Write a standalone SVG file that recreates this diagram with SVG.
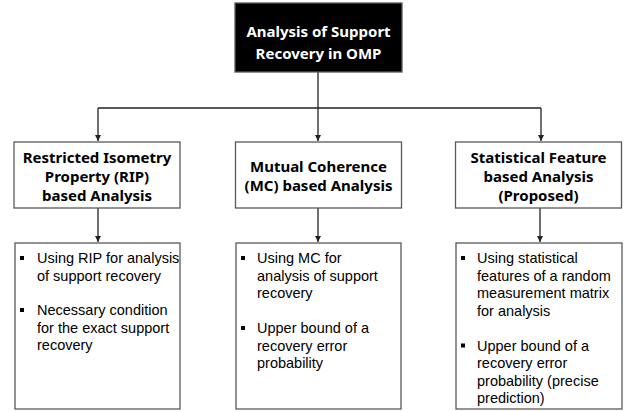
<svg xmlns="http://www.w3.org/2000/svg" width="627" height="411" viewBox="0 0 627 411">
<style>
.box{fill:#fff;stroke:#595959;stroke-width:1.3}
.title{font-family:"Noto Sans","Liberation Sans",sans-serif;font-weight:bold;font-size:15px;fill:#000;text-anchor:middle}
.body{font-family:"Liberation Sans",Arial,sans-serif;font-size:14.5px;fill:#000}
.bul{fill:#000}
.conn{fill:none;stroke:#222;stroke-width:1.3}
</style>
<defs>
<marker id="arr" viewBox="0 0 6 6" refX="6" refY="3" markerWidth="6" markerHeight="6" markerUnits="userSpaceOnUse" orient="auto">
<path d="M0,0 L6,3 L0,6 Z" fill="#222"/>
</marker>
</defs>
<rect width="627" height="411" fill="#fff"/>
<g id="connectors">
<path class="conn" d="M318,72 V108"/>
<path class="conn" d="M98,108 H541"/>
<path class="conn" d="M98,108 V141" marker-end="url(#arr)"/>
<path class="conn" d="M318,108 V141" marker-end="url(#arr)"/>
<path class="conn" d="M541,108 V141" marker-end="url(#arr)"/>
<path class="conn" d="M98,208 V242" marker-end="url(#arr)"/>
<path class="conn" d="M318,208 V242" marker-end="url(#arr)"/>
<path class="conn" d="M540,208 V242" marker-end="url(#arr)"/>
</g>
<g id="root">
<rect x="235" y="3" width="167" height="69" fill="#000" stroke="#595959" stroke-width="1.3"/>
<text class="title" style="fill:#fff" x="318.5" y="37">Analysis of Support</text>
<text class="title" style="fill:#fff" x="318.5" y="59">Recovery in OMP</text>
</g>
<g id="rip">
<rect class="box" x="14" y="142" width="166" height="66"/>
<text class="title" x="97" y="163">Restricted Isometry</text>
<text class="title" x="97" y="182">Property (RIP)</text>
<text class="title" x="97" y="201">based Analysis</text>
</g>
<g id="mc">
<rect class="box" x="235.5" y="142" width="166" height="66"/>
<text class="title" x="318.5" y="172">Mutual Coherence</text>
<text class="title" x="318.5" y="191">(MC) based Analysis</text>
</g>
<g id="stat">
<rect class="box" x="455.5" y="142" width="166" height="66"/>
<text class="title" x="538.5" y="163">Statistical Feature</text>
<text class="title" x="538.5" y="182">based Analysis</text>
<text class="title" x="538.5" y="201">(Proposed)</text>
</g>
<g id="rip-details">
<rect class="box" x="15" y="243" width="165" height="166"/>
<rect class="bul" x="20" y="256" width="4" height="4"/>
<text class="body" x="37" y="263">Using RIP for analysis</text>
<text class="body" x="37" y="280.5">of support recovery</text>
<rect class="bul" x="20" y="308" width="4" height="4"/>
<text class="body" x="37" y="315">Necessary condition</text>
<text class="body" x="37" y="332.5">for the exact support</text>
<text class="body" x="37" y="350">recovery</text>
</g>
<g id="mc-details">
<rect class="box" x="236" y="243" width="165" height="166"/>
<rect class="bul" x="241" y="256" width="4" height="4"/>
<text class="body" x="257" y="263">Using MC for</text>
<text class="body" x="257" y="280.5">analysis of support</text>
<text class="body" x="257" y="298">recovery</text>
<rect class="bul" x="241" y="326" width="4" height="4"/>
<text class="body" x="257" y="333">Upper bound of a</text>
<text class="body" x="257" y="350.5">recovery error</text>
<text class="body" x="257" y="368">probability</text>
</g>
<g id="stat-details">
<rect class="box" x="456" y="243" width="166" height="166"/>
<rect class="bul" x="461" y="256" width="4" height="4"/>
<text class="body" x="477" y="263">Using statistical</text>
<text class="body" x="477" y="280.5">features of a random</text>
<text class="body" x="477" y="298">measurement matrix</text>
<text class="body" x="477" y="315.5">for analysis</text>
<rect class="bul" x="461" y="343.5" width="4" height="4"/>
<text class="body" x="477" y="350.5">Upper bound of a</text>
<text class="body" x="477" y="368">recovery error</text>
<text class="body" x="477" y="385.5">probability (precise</text>
<text class="body" x="477" y="403">prediction)</text>
</g>
</svg>
